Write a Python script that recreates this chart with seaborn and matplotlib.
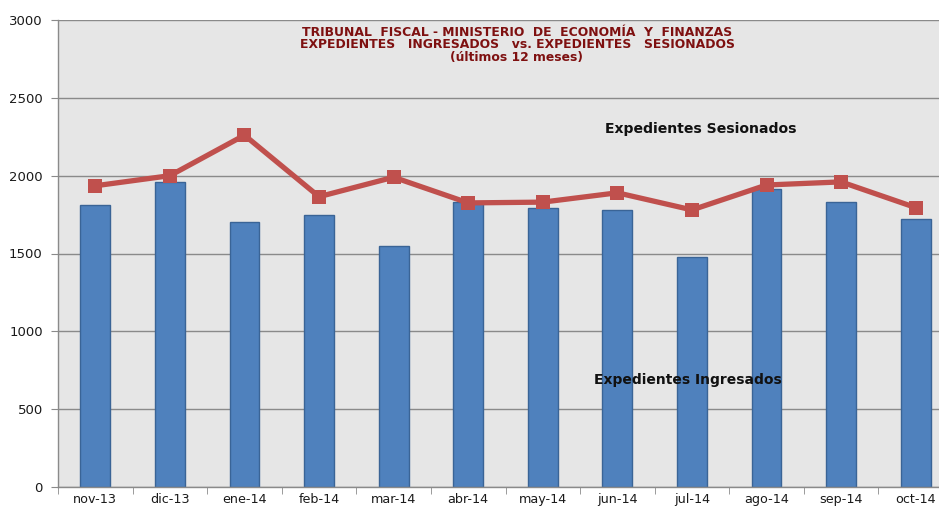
import numpy as np
import pandas as pd
import matplotlib
matplotlib.use("Agg")
import matplotlib.pyplot as plt
from matplotlib.ticker import FixedLocator
import seaborn as sns

months = ["nov-13", "dic-13", "ene-14", "feb-14", "mar-14", "abr-14",
          "may-14", "jun-14", "jul-14", "ago-14", "sep-14", "oct-14"]
ingresados = [1810, 1960, 1700, 1750, 1550, 1830, 1795, 1780, 1480, 1915, 1830, 1720]
sesionados = [1935, 2000, 2260, 1865, 1990, 1825, 1830, 1890, 1780, 1940, 1960, 1795]
y_ticks = [0, 500, 1000, 1500, 2000, 2500, 3000]

df = pd.DataFrame({"mes": months, "ingresados": ingresados, "sesionados": sesionados})

sns.set_style("white")
plt.rcParams["font.family"] = ["DejaVu Sans"]

fig = plt.figure(figsize=(9.39, 5.08), dpi=100)
ax = fig.add_axes([58 / 939, 21 / 508, (953 - 58) / 939, 467 / 508])
ax.set_facecolor("#E6E6E6")

sns.barplot(data=df, x="mes", y="ingresados", ax=ax, color="#4F81BD",
            width=0.4, edgecolor="#3A6496", linewidth=1.0, saturation=1)
sns.lineplot(data=df, x="mes", y="sesionados", ax=ax, color="#C0504D",
             linewidth=3.8, marker="s", markersize=10, markeredgewidth=0,
             markerfacecolor="#C0504D")

ax.set_xlim(-0.5, len(months) - 0.5)
ax.set_ylim(0, 3000)
ax.set_yticks(y_ticks)
ax.set_yticklabels([str(v) for v in y_ticks])
ax.grid(axis="y", color="#8A8A8A", linewidth=1.0)
ax.set_axisbelow(True)
ax.set_xlabel("")
ax.set_ylabel("")

for side in ["top", "right"]:
    ax.spines[side].set_visible(False)
for side in ["left", "bottom"]:
    ax.spines[side].set_color("#8A8A8A")
    ax.spines[side].set_linewidth(1.0)

ax.xaxis.set_minor_locator(FixedLocator(np.arange(-0.5, len(months), 1.0)))
ax.tick_params(axis="x", which="major", length=0, labelsize=9.2,
               labelcolor="#1A1A1A", pad=4)
ax.tick_params(axis="x", which="minor", length=5, color="#8A8A8A",
               direction="out", bottom=True)
ax.tick_params(axis="y", which="major", length=5, color="#8A8A8A",
               direction="out", left=True, labelsize=9.5, labelcolor="#1A1A1A", pad=6)

title_lines = ["TRIBUNAL  FISCAL - MINISTERIO  DE  ECONOMÍA  Y  FINANZAS",
               "EXPEDIENTES   INGRESADOS   vs. EXPEDIENTES   SESIONADOS",
               "(últimos 12 meses)"]
for i, line in enumerate(title_lines):
    fig.text(517 / 939, 1 - (32 + 13 * i) / 508, line, ha="center", va="center",
             fontsize=8.9, fontweight="bold", color="#7E1010")

ax.text(701 / 939, 1 - 129 / 508, "Expedientes Sesionados", transform=fig.transFigure,
        ha="center", va="center", fontsize=10.1, fontweight="bold", color="#111111")
ax.text(688 / 939, 1 - 380 / 508, "Expedientes Ingresados", transform=fig.transFigure,
        ha="center", va="center", fontsize=10, fontweight="bold", color="#111111")

fig.savefig("out.png", dpi=100, facecolor="white")
